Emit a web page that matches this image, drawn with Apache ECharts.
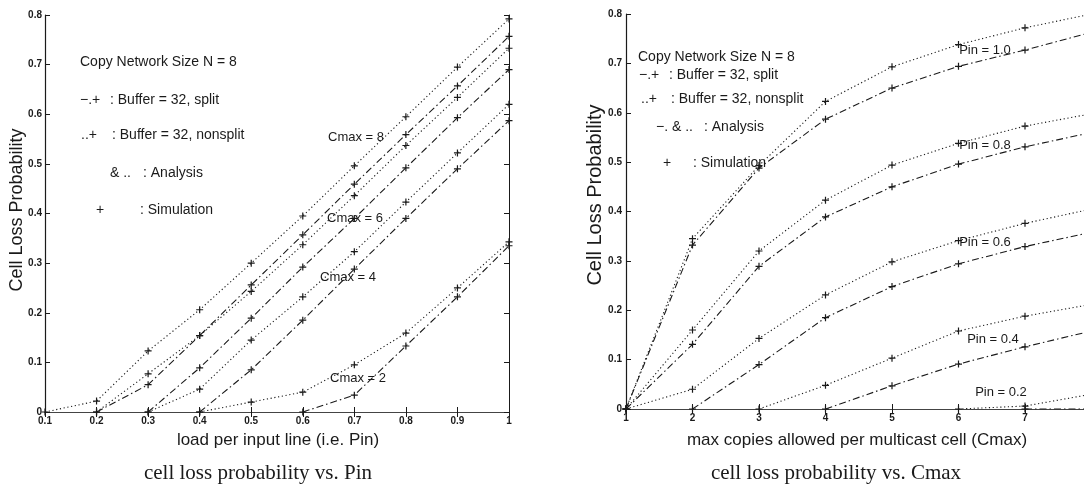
<!DOCTYPE html>
<html>
<head>
<meta charset="utf-8">
<script src="https://cdn.jsdelivr.net/npm/echarts@6/dist/echarts.min.js"></script>
<style>
html,body{margin:0;padding:0;background:#fff;overflow:hidden;}
#chart{width:1084px;height:485px;}
</style>
</head>
<body>
<div id="chart"></div>
<script>
// ---- Left panel: cell loss probability vs. Pin ----
const pinX = [0.1, 0.2, 0.3, 0.4, 0.5, 0.6, 0.7, 0.8, 0.9, 1.0];
const c8NonSplit = [0, 0.022, 0.123, 0.206, 0.300, 0.395, 0.496, 0.595, 0.695, 0.792];
const c8Split    = [null, 0, 0.055, 0.154, 0.256, 0.357, 0.459, 0.559, 0.657, 0.757];
const c6NonSplit = [null, 0, 0.077, 0.154, 0.243, 0.337, 0.436, 0.537, 0.634, 0.733];
const c6Split    = [null, null, 0, 0.089, 0.189, 0.292, 0.390, 0.492, 0.593, 0.690];
const c4NonSplit = [null, null, 0, 0.046, 0.145, 0.232, 0.323, 0.423, 0.522, 0.620];
const c4Split    = [null, null, null, 0, 0.085, 0.185, 0.288, 0.390, 0.490, 0.587];
const c2NonSplit = [null, null, null, 0, 0.020, 0.040, 0.095, 0.159, 0.250, 0.343];
const c2Split    = [null, null, null, null, null, 0, 0.034, 0.133, 0.232, 0.335];

// ---- Right panel: cell loss probability vs. Cmax ----
const cmaxX = [1, 2, 3, 4, 5, 6, 7, 8];
const p10NonSplit = [0, 0.345, 0.493, 0.623, 0.693, 0.738, 0.772, 0.800];
const p10Split    = [0, 0.332, 0.488, 0.587, 0.650, 0.694, 0.727, 0.763];
const p08NonSplit = [0, 0.160, 0.320, 0.423, 0.494, 0.538, 0.573, 0.598];
const p08Split    = [0, 0.131, 0.289, 0.389, 0.450, 0.496, 0.531, 0.560];
const p06NonSplit = [0, 0.040, 0.143, 0.231, 0.298, 0.341, 0.376, 0.405];
const p06Split    = [null, 0, 0.090, 0.185, 0.248, 0.294, 0.329, 0.358];
const p04NonSplit = [null, null, 0, 0.048, 0.103, 0.158, 0.188, 0.212];
const p04Split    = [null, null, null, 0, 0.047, 0.091, 0.126, 0.158];
const p02NonSplit = [null, null, null, null, null, 0, 0.006, 0.030];
const p02Split    = [null, null, null, null, null, null, 0, 0];

const SANS = '"Liberation Sans", Arial, Helvetica, sans-serif';
const SERIF = '"Liberation Serif", "Times New Roman", Times, serif';
const INK = '#1a1a1a';
const PLUS = 'path://M0,5L10,5M5,0L5,10';
const DOTTED = [1.2, 2.6];
const DASHDOT = [7, 3, 1.5, 3];

function zip(xs, ys) { return xs.map((x, i) => [x, ys[i]]); }
function mkSeries(xs, ys, kind, axisIdx) {
  return {
    type: 'line',
    xAxisIndex: axisIdx, yAxisIndex: axisIdx,
    data: zip(xs, ys),
    symbol: PLUS, symbolSize: 7, showSymbol: true,
    connectNulls: false, silent: true, animation: false,
    lineStyle: { color: INK, width: 1.1, type: kind === 'split' ? DASHDOT : DOTTED },
    itemStyle: { color: INK, borderColor: INK, borderWidth: 1.2 },
    z: 3
  };
}

const fmt = v => String(Math.round(v * 10) / 10);
const tickLbl = { fontSize: 10, fontWeight: 'bold', color: INK, fontFamily: SANS };
function bottomX(grid, min, max, interval) {
  return { type: 'value', gridIndex: grid, position: 'bottom', min, max, interval,
    axisLine: { lineStyle: { color: INK, width: 1.2 } },
    axisTick: { inside: true, length: 5, lineStyle: { color: INK } },
    axisLabel: Object.assign({ margin: 4, formatter: fmt }, tickLbl),
    splitLine: { show: false } };
}
function topX(grid, min, max, interval) {
  return { type: 'value', gridIndex: grid, position: 'top', min, max, interval,
    axisLine: { lineStyle: { color: '#444', width: 1 } },
    axisTick: { inside: true, length: 5, lineStyle: { color: INK } },
    axisLabel: { show: false }, splitLine: { show: false } };
}
function leftY(grid, margin) {
  return { type: 'value', gridIndex: grid, position: 'left', min: 0, max: 0.8, interval: 0.1,
    axisLine: { lineStyle: { color: INK, width: 1.2 } },
    axisTick: { inside: true, length: 5, lineStyle: { color: INK } },
    axisLabel: Object.assign({ margin: margin, formatter: fmt }, tickLbl),
    splitLine: { show: false } };
}
function rightY(grid) {
  return { type: 'value', gridIndex: grid, position: 'right', min: 0, max: 0.8, interval: 0.1,
    axisLine: { lineStyle: { color: INK, width: 1 } },
    axisTick: { inside: true, length: 5, lineStyle: { color: INK } },
    axisLabel: { show: false }, splitLine: { show: false } };
}

function txt(x, y, s, opt) {
  opt = opt || {};
  return { type: 'text', x: x, y: y, rotation: opt.rot || 0, silent: true, z: 10,
    style: { text: s, fill: INK, font: (opt.size || 13) + 'px ' + (opt.family || SANS),
      textAlign: opt.align || 'left', textVerticalAlign: 'middle' } };
}
const L = { size: 14 };

const graphics = [
  // left legend
  txt(80, 62, 'Copy Network Size N = 8', L),
  txt(80, 100, '\u2212.+', L), txt(110, 100, ': Buffer = 32, split', L),
  txt(81, 135, '..+', L), txt(112, 135, ': Buffer = 32, nonsplit', L),
  txt(110, 173, '& ..', L), txt(143, 173, ': Analysis', L),
  txt(100, 210, '+', { align: 'center', size: 14 }), txt(140, 210, ': Simulation', L),
  // left curve labels
  txt(356, 137, 'Cmax = 8', { align: 'center' }),
  txt(355, 218, 'Cmax = 6', { align: 'center' }),
  txt(348, 277, 'Cmax = 4', { align: 'center' }),
  txt(358, 378, 'Cmax = 2', { align: 'center' }),
  // left titles
  txt(278, 440, 'load per input line (i.e. Pin)', { align: 'center', size: 17 }),
  txt(17, 210, 'Cell Loss Probability', { align: 'center', size: 18, rot: Math.PI / 2 }),
  txt(258, 473, 'cell loss probability vs. Pin', { align: 'center', size: 21, family: SERIF }),
  // right legend
  txt(638, 57, 'Copy Network Size N = 8', L),
  txt(639, 75, '\u2212.+', L), txt(669, 75, ': Buffer = 32, split', L),
  txt(641, 99, '..+', L), txt(671, 99, ': Buffer = 32, nonsplit', L),
  txt(656, 127, '\u2212. & ..', L), txt(704, 127, ': Analysis', L),
  txt(667, 163, '+', { align: 'center', size: 14 }), txt(693, 163, ': Simulation', L),
  // right curve labels
  txt(985, 50, 'Pin = 1.0', { align: 'center' }),
  txt(985, 145, 'Pin = 0.8', { align: 'center' }),
  txt(985, 242, 'Pin = 0.6', { align: 'center' }),
  txt(993, 339, 'Pin = 0.4', { align: 'center' }),
  txt(1001, 392, 'Pin = 0.2', { align: 'center' }),
  // right titles
  txt(857, 440, 'max copies allowed per multicast cell (Cmax)', { align: 'center', size: 17 }),
  txt(595, 195, 'Cell Loss Probability', { align: 'center', size: 20, rot: Math.PI / 2 }),
  txt(836, 473, 'cell loss probability vs. Cmax', { align: 'center', size: 21, family: SERIF })
];

const option = {
  animation: false,
  backgroundColor: '#ffffff',
  grid: [
    { left: 45, top: 15, width: 464, height: 397, containLabel: false, outerBoundsMode: 'none' },
    { left: 626, top: 14, width: 465.5, height: 395, containLabel: false, outerBoundsMode: 'none' }
  ],
  xAxis: [
    bottomX(0, 0.1, 1, 0.1), topX(0, 0.1, 1, 0.1),
    bottomX(1, 1, 8, 1), topX(1, 1, 8, 1)
  ],
  yAxis: [
    leftY(0, 3), rightY(0),
    leftY(1, 4), rightY(1)
  ],
  series: [
    mkSeries(pinX, c8NonSplit, 'nonsplit', 0),
    mkSeries(pinX, c8Split, 'split', 0),
    mkSeries(pinX, c6NonSplit, 'nonsplit', 0),
    mkSeries(pinX, c6Split, 'split', 0),
    mkSeries(pinX, c4NonSplit, 'nonsplit', 0),
    mkSeries(pinX, c4Split, 'split', 0),
    mkSeries(pinX, c2NonSplit, 'nonsplit', 0),
    mkSeries(pinX, c2Split, 'split', 0),
    mkSeries(cmaxX, p10NonSplit, 'nonsplit', 2),
    mkSeries(cmaxX, p10Split, 'split', 2),
    mkSeries(cmaxX, p08NonSplit, 'nonsplit', 2),
    mkSeries(cmaxX, p08Split, 'split', 2),
    mkSeries(cmaxX, p06NonSplit, 'nonsplit', 2),
    mkSeries(cmaxX, p06Split, 'split', 2),
    mkSeries(cmaxX, p04NonSplit, 'nonsplit', 2),
    mkSeries(cmaxX, p04Split, 'split', 2),
    mkSeries(cmaxX, p02NonSplit, 'nonsplit', 2),
    mkSeries(cmaxX, p02Split, 'split', 2)
  ],
  graphic: graphics
};

const chart = echarts.init(document.getElementById('chart'), null, { renderer: 'canvas' });
chart.setOption(option);
</script>
</body>
</html>
